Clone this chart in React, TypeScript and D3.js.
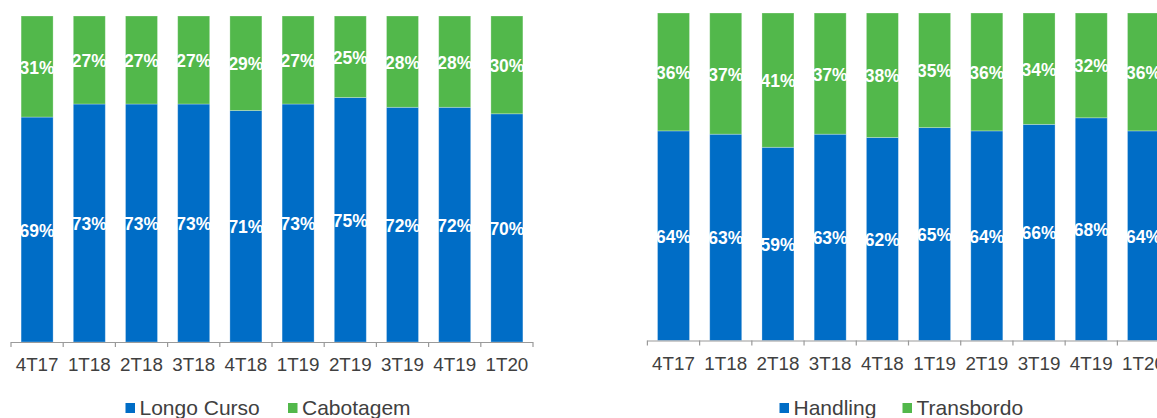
import React from "react";
import * as d3 from "d3";

const quarters = ["4T17", "1T18", "2T18", "3T18", "4T18", "1T19", "2T19", "3T19", "4T19", "1T20"];

const longoCurso = [69, 73, 73, 73, 71, 73, 75, 72, 72, 70];
const cabotagem = [31, 27, 27, 27, 29, 27, 25, 28, 28, 30];

const handling = [64, 63, 59, 63, 62, 65, 64, 66, 68, 64];
const transbordo = [36, 37, 41, 37, 38, 35, 36, 34, 32, 36];

const leftLegend = ["Longo Curso", "Cabotagem"];
const rightLegend = ["Handling", "Transbordo"];

const BLUE = "#006DC6";
const GREEN = "#52B84B";
const FONT = "'Liberation Sans', Arial, sans-serif";

function Legend({ items, xs }: { items: string[]; xs: number[] }) {
  const colors = [BLUE, GREEN];
  return (
    <g>
      {items.map((s, i) => (
        <g key={s} transform={`translate(${xs[i]},0)`}>
          <rect x={0} y={403} width={9.5} height={10} fill={colors[i]} />
          <text x={14} y={415} fill="#404040" fontFamily={FONT} fontSize={21}>
            {s}
          </text>
        </g>
      ))}
    </g>
  );
}

type ChartProps = {
  bottom: number[];
  top: number[];
  x0: number;
  x1: number;
  yTop: number;
  yBase: number;
  labelBaseline: number;
};

function Chart({ bottom, top, x0, x1, yTop, yBase, labelBaseline }: ChartProps) {
  const pad = 1 - 32 / ((x1 - x0) / quarters.length);
  const x = d3.scaleBand<string>().domain(quarters).range([x0, x1]).paddingInner(pad).paddingOuter(pad / 2);
  const y = d3.scaleLinear().domain([0, 100]).range([yBase, yTop]);
  const step = x.step();
  const bw = x.bandwidth();
  const ticks = d3.range(quarters.length + 1).map((i) => x0 + i * step);
  return (
    <g>
      {quarters.map((q, i) => {
        const xb = x(q)!;
        const yb = y(bottom[i]);
        const yt = y(bottom[i] + top[i]);
        return (
          <g key={q}>
            <rect x={xb} y={yb} width={bw} height={yBase - yb} fill={BLUE} stroke="#ffffff" strokeOpacity={0.35} strokeWidth={0.8} />
            <rect x={xb} y={yt} width={bw} height={yb - yt} fill={GREEN} stroke="#ffffff" strokeOpacity={0.35} strokeWidth={0.8} />
            <text x={xb + bw / 2} y={(yb + yBase) / 2 + 1} textAnchor="middle" dominantBaseline="central" fill="#ffffff" fontFamily={FONT} fontWeight="bold" fontSize={17.5}>
              {bottom[i]}%
            </text>
            <text x={xb + bw / 2} y={(yt + yb) / 2 + 1} textAnchor="middle" dominantBaseline="central" fill="#ffffff" fontFamily={FONT} fontWeight="bold" fontSize={17.5}>
              {top[i]}%
            </text>
          </g>
        );
      })}
      <line x1={x0} x2={x1} y1={yBase + 0.5} y2={yBase + 0.5} stroke="#9a9a9a" strokeWidth={1.2} />
      {ticks.map((t, i) => (
        <line key={i} x1={t} x2={t} y1={yBase} y2={yBase + 5} stroke="#9a9a9a" strokeWidth={1.2} />
      ))}
      {quarters.map((q) => (
        <text key={q} x={x(q)! + bw / 2} y={labelBaseline} textAnchor="middle" fill="#404040" fontFamily={FONT} fontSize={18.8}>
          {q}
        </text>
      ))}
    </g>
  );
}

export default function App() {
  return (
    <svg width={1157} height={418} style={{ position: "absolute", left: 0, top: 0, background: "#ffffff" }}>
      <Chart bottom={longoCurso} top={cabotagem} x0={11} x1={533} yTop={16} yBase={342} labelBaseline={370.8} />
      <Legend items={leftLegend} xs={[125.5, 288]} />
      <Chart bottom={handling} top={transbordo} x0={647.4} x1={1169.6} yTop={13} yBase={340.5} labelBaseline={369.8} />
      <Legend items={rightLegend} xs={[779.5, 902.5]} />
    </svg>
  );
}
